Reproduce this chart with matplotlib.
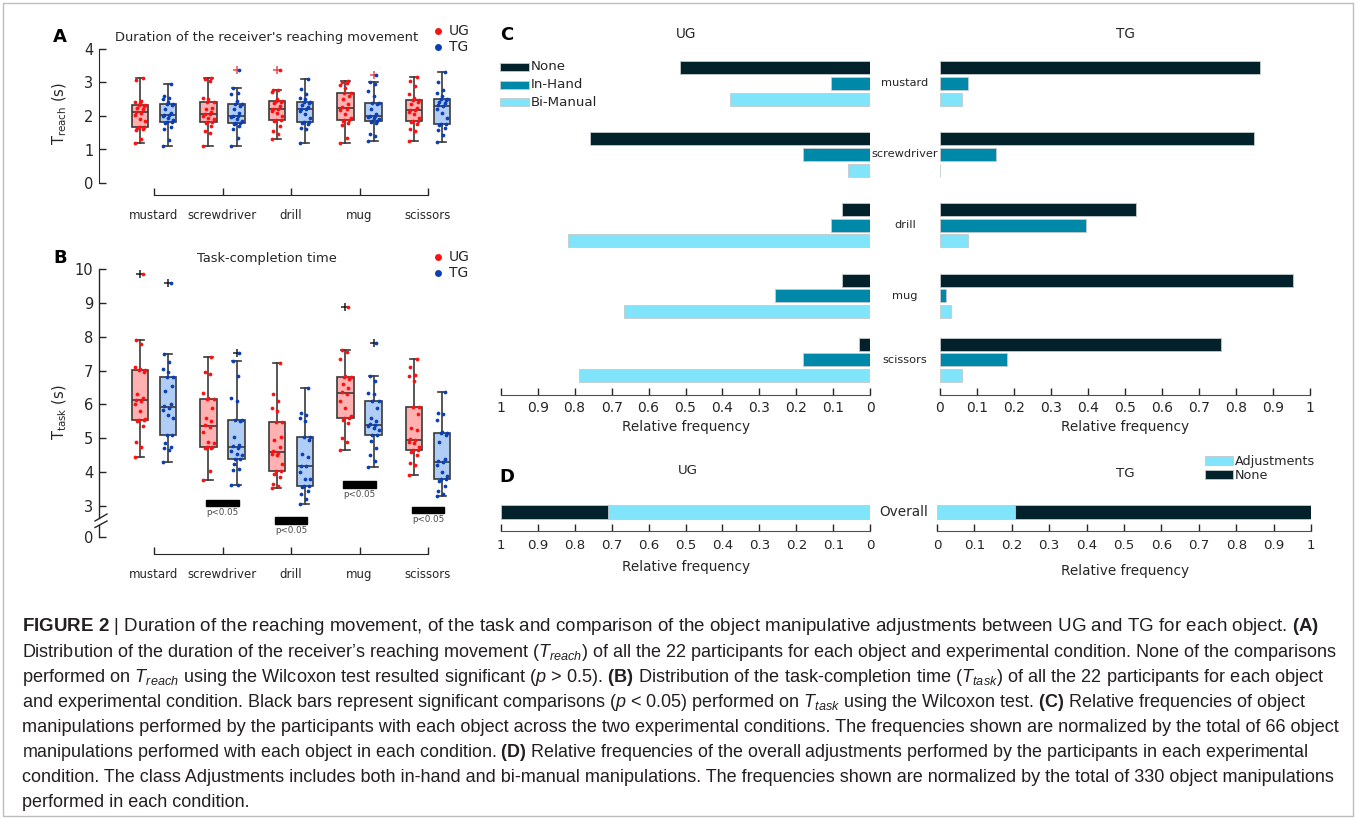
import numpy as np
import matplotlib
matplotlib.use("Agg")
import matplotlib.pyplot as plt
from matplotlib import font_manager, transforms
from matplotlib.patches import Rectangle
from matplotlib.lines import Line2D

# ---------------------------------------------------------------- data
objects = ["mustard", "screwdriver", "drill", "mug", "scissors"]

# reaching-movement duration T_reach (s), 22 participants per object
reach_ug = [
    [1.19, 1.32, 1.58, 1.62, 1.65, 1.67, 1.67, 1.85, 1.92, 2.02, 2.10, 2.12, 2.20, 2.25, 2.30, 2.32, 2.32, 2.38, 2.42, 2.45, 3.08, 3.13],
    [1.11, 1.48, 1.55, 1.70, 1.78, 1.82, 1.82, 1.90, 1.95, 2.00, 2.05, 2.07, 2.12, 2.20, 2.25, 2.42, 2.42, 2.50, 2.55, 3.05, 3.10, 3.13],
    [1.31, 1.45, 1.55, 1.70, 1.85, 1.88, 1.88, 2.00, 2.08, 2.15, 2.20, 2.22, 2.30, 2.38, 2.42, 2.46, 2.46, 2.52, 2.72, 2.77, 2.79, 3.37],
    [1.19, 1.35, 1.72, 1.78, 1.85, 1.88, 1.88, 1.95, 2.05, 2.18, 2.22, 2.26, 2.35, 2.50, 2.60, 2.69, 2.69, 2.85, 2.92, 2.98, 3.02, 3.05],
    [1.24, 1.55, 1.62, 1.75, 1.82, 1.86, 1.86, 1.95, 2.05, 2.12, 2.17, 2.19, 2.25, 2.35, 2.42, 2.48, 2.48, 2.55, 2.65, 2.90, 3.05, 3.17],
]
reach_tg = [
    [1.11, 1.28, 1.62, 1.68, 1.80, 1.83, 1.83, 1.88, 1.95, 2.00, 2.02, 2.04, 2.10, 2.22, 2.32, 2.36, 2.36, 2.42, 2.50, 2.55, 2.60, 2.96],
    [1.11, 1.33, 1.60, 1.70, 1.75, 1.78, 1.78, 1.85, 1.92, 1.98, 2.00, 2.00, 2.10, 2.20, 2.30, 2.36, 2.36, 2.45, 2.65, 2.70, 2.85, 3.38],
    [1.19, 1.60, 1.65, 1.75, 1.80, 1.83, 1.83, 1.95, 2.05, 2.15, 2.20, 2.22, 2.28, 2.33, 2.38, 2.42, 2.42, 2.50, 2.55, 2.65, 2.82, 3.10],
    [1.26, 1.40, 1.45, 1.78, 1.82, 1.86, 1.86, 1.90, 1.95, 1.98, 2.00, 2.00, 2.05, 2.20, 2.35, 2.38, 2.38, 2.60, 2.75, 2.95, 3.00, 3.23],
    [1.21, 1.42, 1.58, 1.65, 1.72, 1.76, 1.76, 1.95, 2.10, 2.20, 2.30, 2.32, 2.38, 2.42, 2.48, 2.51, 2.51, 2.60, 2.70, 2.78, 3.00, 3.31],
]

# task-completion time T_task (s)
task_ug = [
    [4.46, 4.75, 4.90, 5.35, 5.50, 5.53, 5.53, 5.58, 5.80, 6.00, 6.10, 6.14, 6.20, 6.30, 6.95, 7.02, 7.02, 7.05, 7.10, 7.78, 7.91, 9.86],
    [3.76, 4.02, 4.70, 4.72, 4.72, 4.73, 4.73, 4.85, 4.90, 5.20, 5.32, 5.38, 5.50, 5.60, 5.90, 6.17, 6.17, 6.20, 6.35, 6.90, 6.95, 7.40],
    [3.53, 3.60, 3.65, 3.85, 3.95, 4.03, 4.03, 4.25, 4.50, 4.55, 4.58, 4.62, 4.75, 4.95, 5.05, 5.47, 5.47, 5.80, 5.90, 6.10, 6.32, 7.23],
    [4.65, 4.88, 5.00, 5.45, 5.55, 5.59, 5.59, 5.65, 5.90, 6.10, 6.30, 6.36, 6.50, 6.60, 6.75, 6.80, 6.80, 6.85, 7.35, 7.55, 7.60, 8.87],
    [3.93, 4.20, 4.27, 4.50, 4.60, 4.65, 4.65, 4.75, 4.85, 4.90, 4.95, 4.97, 5.25, 5.30, 5.72, 5.91, 5.91, 6.70, 6.85, 6.88, 7.10, 7.35],
]
task_tg = [
    [4.31, 4.65, 4.70, 4.75, 4.85, 5.11, 5.11, 5.60, 5.70, 5.85, 5.90, 5.94, 6.00, 6.40, 6.55, 6.80, 6.80, 6.95, 7.05, 7.25, 7.50, 9.58],
    [3.61, 3.62, 4.05, 4.08, 4.25, 4.38, 4.38, 4.50, 4.55, 4.62, 4.72, 4.76, 4.80, 5.05, 5.50, 5.55, 5.55, 6.10, 6.20, 6.85, 7.27, 7.53],
    [3.07, 3.20, 3.35, 3.45, 3.55, 3.58, 3.58, 3.80, 3.80, 4.00, 4.17, 4.19, 4.45, 4.55, 4.95, 5.04, 5.04, 5.50, 5.60, 5.70, 5.75, 6.50],
    [4.15, 4.33, 4.52, 4.72, 4.92, 5.11, 5.11, 5.25, 5.30, 5.35, 5.38, 5.42, 5.50, 5.60, 5.90, 6.09, 6.09, 6.30, 6.35, 6.70, 6.83, 7.81],
    [3.29, 3.35, 3.45, 3.60, 3.75, 3.79, 3.79, 3.90, 4.00, 4.20, 4.30, 4.32, 4.40, 4.90, 5.10, 5.16, 5.16, 5.20, 5.55, 5.72, 5.75, 6.36],
]

# objects with a significant UG/TG difference in T_task
sig_objects = ["screwdriver", "drill", "mug", "scissors"]
sig_label = "p<0.05"

# counts of object manipulations (out of 66 per object and condition)
manipulations_per_object = 66
ug_none = [34, 50, 5, 5, 2]
ug_inhand = [7, 12, 7, 17, 12]
ug_bimanual = [25, 4, 54, 44, 52]
tg_none = [57, 56, 35, 63, 50]
tg_inhand = [5, 10, 26, 1, 12]
tg_bimanual = [4, 0, 5, 2, 4]

freq_ticks = [0, 0.1, 0.2, 0.3, 0.4, 0.5, 0.6, 0.7, 0.8, 0.9, 1]
freq_ticklabels = ["0", "0.1", "0.2", "0.3", "0.4", "0.5", "0.6", "0.7", "0.8", "0.9", "1"]

caption_lines = [
    r"$\mathbf{FIGURE\ 2}$ | Duration of the reaching movement, of the task and comparison of the object manipulative adjustments between UG and TG for each object. $\mathbf{(A)}$",
    r"Distribution of the duration of the receiver’s reaching movement ($T_{reach}$) of all the 22 participants for each object and experimental condition. None of the comparisons",
    r"performed on $T_{reach}$ using the Wilcoxon test resulted significant ($p$ > 0.5). $\mathbf{(B)}$ Distribution of the task-completion time ($T_{task}$) of all the 22 participants for each object",
    r"and experimental condition. Black bars represent significant comparisons ($p$ < 0.05) performed on $T_{task}$ using the Wilcoxon test. $\mathbf{(C)}$ Relative frequencies of object",
    r"manipulations performed by the participants with each object across the two experimental conditions. The frequencies shown are normalized by the total of 66 object",
    r"manipulations performed with each object in each condition. $\mathbf{(D)}$ Relative frequencies of the overall adjustments performed by the participants in each experimental",
    r"condition. The class Adjustments includes both in-hand and bi-manual manipulations. The frequencies shown are normalized by the total of 330 object manipulations",
    r"performed in each condition.",
]

# ---------------------------------------------------------------- style
W, H, DPI = 1357, 821, 100
INK = "#262626"
EDGE = "#3a3a3a"
UG_FACE, TG_FACE = "#ffb0b0", "#b0cdf6"
UG_DOT, TG_DOT = "#ff1010", "#0b3fb5"
C_NONE, C_INHAND, C_BIMAN = "#02212a", "#0088a9", "#80e4fb"
BAR_EDGE = "#c4cacc"

avail = {f.name for f in font_manager.fontManager.ttflist}
cap_font = "Liberation Sans Narrow" if "Liberation Sans Narrow" in avail else "Liberation Sans"
plt.rcParams["font.family"] = ["DejaVu Sans"]
plt.rcParams["mathtext.fontset"] = "custom"
plt.rcParams["mathtext.rm"] = cap_font
plt.rcParams["mathtext.it"] = cap_font + ":italic"
plt.rcParams["mathtext.bf"] = cap_font + ":bold"

fig = plt.figure(figsize=(W / DPI, H / DPI), dpi=DPI)
fig.patch.set_facecolor("white")


def fx(x):
    return x / W


def fy(y):
    return 1 - y / H


def px_axes(x0, y0, x1, y1):
    ax = fig.add_axes([fx(x0), fy(y1), (x1 - x0) / W, (y1 - y0) / H])
    ax.patch.set_alpha(0)
    return ax


def ftext(x, y, s, **kw):
    kw.setdefault("ha", "center")
    kw.setdefault("va", "center")
    kw.setdefault("color", INK)
    return fig.text(fx(x), fy(y), s, **kw)


def fline(xs, ys, **kw):
    fig.add_artist(Line2D([fx(v) for v in xs], [fy(v) for v in ys],
                          transform=fig.transFigure, **kw))


def frect(x0, y0, x1, y1, **kw):
    fig.add_artist(Rectangle((fx(x0), fy(y1)), (x1 - x0) / W, (y1 - y0) / H,
                             transform=fig.transFigure, **kw))


# deterministic horizontal spread for the participant dots
jitter = (np.array([((k * 5) % 9) - 4 for k in range(22)]) / 4.0) * 0.075


def box_panel(ax, ug, tg, flier_color):
    groups = np.arange(1, len(objects) + 1)
    for data, pos, face, dot in ((ug, groups - 0.205, UG_FACE, UG_DOT),
                                 (tg, groups + 0.205, TG_FACE, TG_DOT)):
        ax.boxplot(data, positions=pos, widths=0.235, patch_artist=True,
                   manage_ticks=False, capwidths=0.13,
                   boxprops=dict(facecolor=face, edgecolor=EDGE, linewidth=1.2),
                   medianprops=dict(color=EDGE, linewidth=1.2),
                   whiskerprops=dict(color=EDGE, linewidth=1.2),
                   capprops=dict(color=EDGE, linewidth=1.2),
                   flierprops=dict(marker="+", markeredgecolor=flier_color,
                                   markersize=6, markeredgewidth=1.1))
        for p, vals in zip(pos, data):
            ax.plot(p + jitter[:len(vals)], vals, "o", ms=2.7, color=dot,
                    mec="none", zorder=4)
    ax.set_xlim(1 - 55 / 68.5, 1 + 316 / 68.5)
    for s in ("top", "right"):
        ax.spines[s].set_visible(False)
    ax.spines["bottom"].set_bounds(1, len(objects))
    ax.spines["bottom"].set_color(INK)
    ax.spines["left"].set_color(INK)
    ax.set_xticks(groups)
    ax.set_xticklabels(objects)
    ax.tick_params(axis="x", direction="in", length=5, labelsize=8.5,
                   colors=INK, width=1)
    ax.tick_params(axis="y", direction="in", length=5, labelsize=10.5,
                   colors=INK, pad=4, width=1)


# ---------------------------------------------------------------- panel A
ax_a = px_axes(99, 49, 470, 183)
box_panel(ax_a, reach_ug, reach_tg, "#ee4c50")
ax_a.set_ylim(0, 4)
ax_a.set_yticks([0, 1, 2, 3, 4])
ax_a.spines["left"].set_bounds(0, 4)
ax_a.spines["bottom"].set_position(("outward", 9))
ax_a.tick_params(axis="x", pad=9.5)

ftext(60, 37, "A", fontsize=13, fontweight="bold", color="black")
ftext(267, 37, "Duration of the receiver's reaching movement", fontsize=9.4)
ftext(60, 114, r"T$_{\mathrm{reach}}$ (s)", fontsize=10.5, rotation=90,
      math_fontfamily="dejavusans")

# ---------------------------------------------------------------- panel B
y_zero = 2.085  # where the "0" of the broken axis sits
ax_b = px_axes(99, 269, 470, 537)
box_panel(ax_b, task_ug, task_tg, "#202020")
ax_b.set_ylim(y_zero, 10)
ax_b.set_yticks([y_zero, 3, 4, 5, 6, 7, 8, 9, 10])
ax_b.set_yticklabels(["0", "3", "4", "5", "6", "7", "8", "9", "10"])
ax_b.spines["left"].set_visible(False)
ax_b.spines["bottom"].set_position(("outward", 12))
ax_b.tick_params(axis="x", pad=10)
bt = transforms.blended_transform_factory(ax_b.transAxes, ax_b.transData)
ax_b.plot([0, 0], [2.646, 10], transform=bt, color=INK, lw=1, clip_on=False)
ax_b.plot([0, 0], [y_zero, 2.439], transform=bt, color=INK, lw=1, clip_on=False)
fline([95, 107], [521, 514], color=INK, lw=1)
fline([95, 107], [527.5, 521], color=INK, lw=1)

sig_levels = {"screwdriver": 3.09, "drill": 2.57, "mug": 3.63, "scissors": 2.88}
for name in sig_objects:
    g = objects.index(name) + 1
    yv = sig_levels[name]
    ax_b.add_patch(Rectangle((g - 0.235, yv - 0.1), 0.47, 0.2, color="black",
                             clip_on=False, zorder=5))
    ax_b.text(g, yv - 0.28, sig_label, ha="center", va="center", fontsize=6.3,
              color="#4a4a4a", clip_on=False)

ftext(60, 258, "B", fontsize=13, fontweight="bold", color="black")
ftext(267, 258, "Task-completion time", fontsize=9.4)
ftext(60, 412, r"T$_{\mathrm{task}}$ (s)", fontsize=10.5, rotation=90,
      math_fontfamily="dejavusans")

# UG / TG keys of panels A and B
for y_ug in (31, 257):
    for dy, lab, col in ((0, "UG", UG_DOT), (16, "TG", TG_DOT)):
        fig.add_artist(Line2D([fx(438)], [fy(y_ug + dy)], marker="o", ms=5,
                              color=col, mec="none", transform=fig.transFigure))
        ftext(449, y_ug + dy, lab, fontsize=10, ha="left")

# ---------------------------------------------------------------- panel C
rows = np.array([0, 4.49, 8.97, 13.46, 17.51])
row_px = 15.8
c_top, c_bot = 45, 395
c_ylim = ((c_bot - 83.3) / row_px, -(83.3 - c_top) / row_px)


def freq_axis(ax, inverted):
    ax.set_xlim((1, 0) if inverted else (0, 1))
    for s in ("top", "right", "left"):
        ax.spines[s].set_visible(False)
    ax.spines["bottom"].set_color("#505050")
    ax.set_yticks([])
    ax.set_xticks(freq_ticks)
    ax.set_xticklabels(freq_ticklabels)
    ax.tick_params(axis="x", direction="in", length=5, labelsize=10,
                   colors=INK, width=1)


ax_cu = px_axes(500.7, c_top, 870.3, c_bot)
ax_ct = px_axes(940, c_top, 1310.3, c_bot)
for ax, none, inh, bim, inv in ((ax_cu, ug_none, ug_inhand, ug_bimanual, True),
                                (ax_ct, tg_none, tg_inhand, tg_bimanual, False)):
    for off, counts, col in ((-1, none, C_NONE), (0, inh, C_INHAND), (1, bim, C_BIMAN)):
        ax.barh(rows + off, np.array(counts) / manipulations_per_object,
                height=0.82, color=col, edgecolor=BAR_EDGE, linewidth=0.6)
    ax.set_ylim(*c_ylim)
    freq_axis(ax, inv)
    ax.tick_params(axis="x", pad=4)

ct = transforms.blended_transform_factory(fig.transFigure, ax_ct.transData)
for name, r in zip(objects, rows):
    fig.text(fx(905), r, name, transform=ct, ha="center", va="center",
             fontsize=8.2, color=INK)

ftext(507, 35, "C", fontsize=13, fontweight="bold", color="black")
ftext(686, 34, "UG", fontsize=9.8)
ftext(1125, 34, "TG", fontsize=9.8)
ftext(686, 427, "Relative frequency", fontsize=9.8)
ftext(1125, 427, "Relative frequency", fontsize=9.8)

for yc, lab, col in ((67, "None", C_NONE), (84.7, "In-Hand", C_INHAND),
                     (102.3, "Bi-Manual", C_BIMAN)):
    frect(500, yc - 4, 528.5, yc + 4, facecolor=col, edgecolor=BAR_EDGE, lw=0.6)
    ftext(531, yc, lab, fontsize=9.6, ha="left")

# ---------------------------------------------------------------- panel D
total = manipulations_per_object * len(objects)
adj_ug = (sum(ug_inhand) + sum(ug_bimanual)) / total
none_ug = sum(ug_none) / total
adj_tg = (sum(tg_inhand) + sum(tg_bimanual)) / total
none_tg = sum(tg_none) / total

d_top, d_bot, d_bar = 500, 531, 512
d_ylim = ((d_bot - d_bar) / 13, -(d_bar - d_top) / 13)
ax_du = px_axes(500.7, d_top, 870.3, d_bot)
ax_dt = px_axes(937, d_top, 1311, d_bot)
for ax, adj, none, inv in ((ax_du, adj_ug, none_ug, True),
                           (ax_dt, adj_tg, none_tg, False)):
    ax.barh([0], [adj], height=1.0, color=C_BIMAN, edgecolor=BAR_EDGE, linewidth=0.6)
    ax.barh([0], [none], left=[adj], height=1.0, color=C_NONE,
            edgecolor=BAR_EDGE, linewidth=0.6)
    ax.set_ylim(*d_ylim)
    freq_axis(ax, inv)
    ax.tick_params(axis="x", pad=6, labelsize=9.6)

ftext(507, 477, "D", fontsize=13, fontweight="bold", color="black")
ftext(688, 470, "UG", fontsize=9.6)
ftext(1125, 473, "TG", fontsize=9.6)
ftext(904, 512, "Overall", fontsize=9.8)
ftext(686, 567, "Relative frequency", fontsize=9.8)
ftext(1125, 571, "Relative frequency", fontsize=9.8)
for yc, lab, col in ((461, "Adjustments", C_BIMAN), (475, "None", C_NONE)):
    frect(1205, yc - 4.5, 1233, yc + 4.5, facecolor=col, edgecolor=BAR_EDGE, lw=0.6)
    ftext(1235, yc, lab, fontsize=9.2, ha="left")

# ---------------------------------------------------------------- caption
cap_y = [625, 651, 676, 701, 726, 751, 776, 801]
cap_right = [1318, 1335, 1319, 1303, 1340, 1304, 1336, None]
cap_texts = [fig.text(fx(22), fy(y + 6), s, fontsize=12, family=cap_font,
                      color="#231f20", ha="left", va="baseline")
             for s, y in zip(caption_lines, cap_y)]
renderer = fig.canvas.get_renderer()
sizes = []
for t, right in zip(cap_texts, cap_right):
    if right is None:
        continue
    w = t.get_window_extent(renderer).width
    size = 12.0 * (right - 22) / w
    t.set_fontsize(size)
    sizes.append(size)
cap_texts[-1].set_fontsize(float(np.median(sizes)))

# frame around figure and caption
frect(3, 3, 1353, 816, fill=False, edgecolor="#bdbdbd", lw=1)

fig.savefig("out.png", dpi=DPI, facecolor="white")
